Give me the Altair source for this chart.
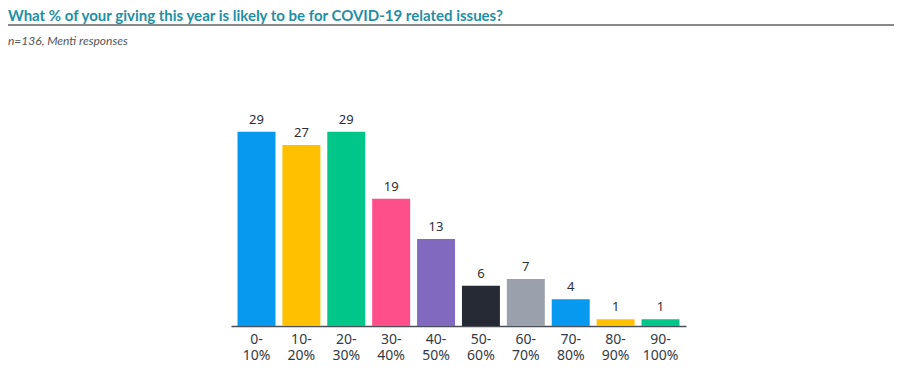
import altair as alt
import pandas as pd

categories = ["0-10%", "10-20%", "20-30%", "30-40%", "40-50%",
              "50-60%", "60-70%", "70-80%", "80-90%", "90-100%"]
values = [29, 27, 29, 19, 13, 6, 7, 4, 1, 1]
colors = ["#0798F0", "#FFC000", "#00C68A", "#FF4F8A", "#8069BE",
          "#252A34", "#9BA1AC", "#0798F0", "#FFC000", "#00C68A"]

df = pd.DataFrame({"cat": categories, "val": values})

x = alt.X("cat:N", sort=categories,
          scale=alt.Scale(range=[223, 678], paddingInner=0.154, paddingOuter=0.145),
          axis=alt.Axis(title=None, ticks=False, labelAngle=0, labelPadding=6,
                        labelFont="Noto Sans", labelFontSize=14, labelColor="#333A45",
                        labelLineHeight=16, domainColor="#4A4F57", domainWidth=1.5,
                        labelExpr="[split(datum.label,'-')[0]+'-', split(datum.label,'-')[1]]"))
y = alt.Y("val:Q", scale=alt.Scale(domain=[0, 40], nice=False), axis=None)

bars = alt.Chart(df).mark_bar().encode(
    x=x, y=y,
    color=alt.Color("cat:N", sort=categories,
                    scale=alt.Scale(domain=categories, range=colors), legend=None),
)
text = alt.Chart(df).mark_text(dy=-5, font="Noto Sans", fontSize=13, color="#2B2F38",
                               baseline="bottom").encode(x=x, y=y, text="val:Q")
line = alt.Chart(df).mark_rule(color="#888888", strokeWidth=1).encode(
    x=alt.value(0), x2=alt.value(886), y=alt.value(-33))

chart = alt.layer(line, bars, text).properties(
    width=886, height=268,
    autosize=alt.AutoSizeParams(type="none"),
    padding={"left": 0, "top": 50, "right": 0, "bottom": 48},
    title=alt.TitleParams(
        "What % of your giving this year is likely to be for COVID-19 related issues?",
        subtitle="n=136, Menti responses",
        anchor="start", frame="group", font="Lato", fontSize=15, fontWeight="bold",
        color="#1E8FA6", subtitleFont="Lato", subtitleFontSize=12,
        subtitleFontStyle="italic", subtitleColor="#555555", subtitlePadding=12,
        offset=-22),
).configure(background="white").configure_view(stroke=None)

chart.save("out.html", embed_options={"renderer": "svg", "actions": False})
